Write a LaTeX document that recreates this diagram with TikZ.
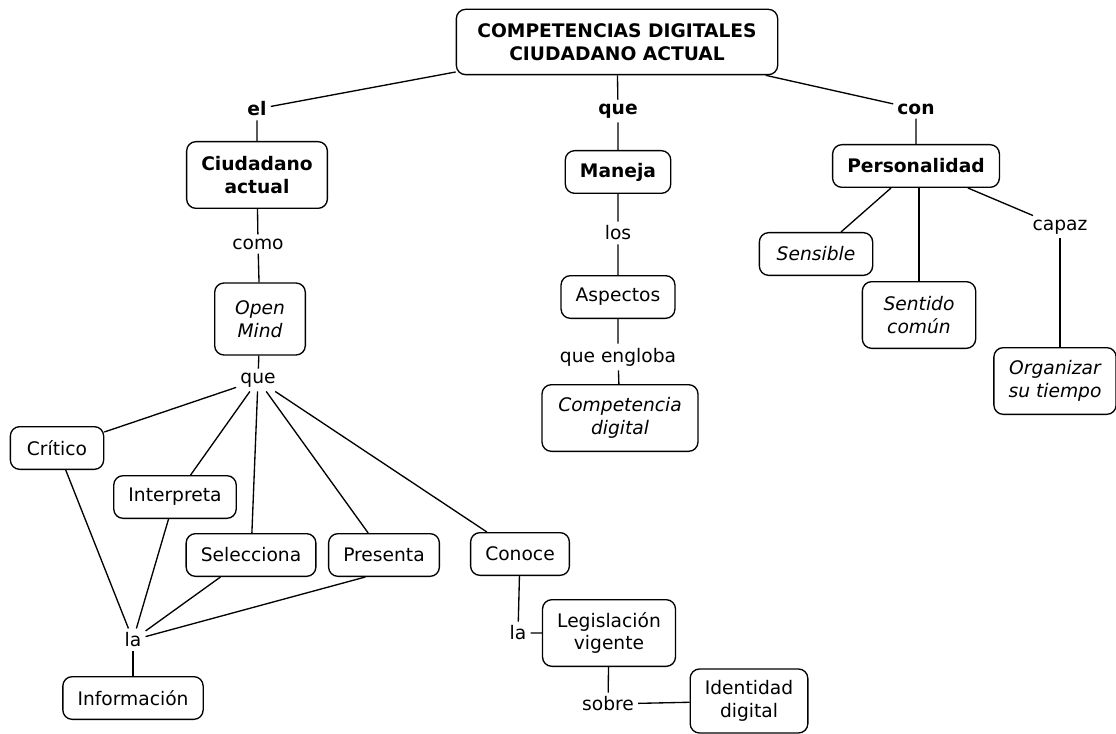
\documentclass[tikz,border=0pt]{standalone}
\usepackage{fontspec}
\setmainfont{DejaVu Sans}
\begin{document}
\fontsize{14}{17}\selectfont
\begin{tikzpicture}[x=0.75pt,y=-0.75pt]
\tikzstyle{concept}=[draw,rounded corners=7pt,line width=1pt,align=center,inner xsep=11pt,minimum height=32pt];
\tikzstyle{concept2}=[concept,minimum height=50pt];
\tikzstyle{link}=[inner sep=3pt,align=center];
\tikzstyle{conn}=[line width=1pt];
\useasboundingbox (0,0) rectangle (1116,734);
\node [concept,font=\bfseries,minimum width=241pt,minimum height=49pt] (top) at (617,42) {COMPETENCIAS DIGITALES\\CIUDADANO ACTUAL};
\node [link,font=\bfseries] (el) at (257,109) {el};
\node [link,font=\bfseries] (que1) at (618,111) {que};
\node [link,font=\bfseries] (con) at (916,109) {con};

% left branch
\node [concept2,font=\bfseries,minimum width=105pt] (ciud) at (257,175) {Ciudadano\\actual};
\node [link] (como) at (258,244) {como};
\node [concept2,font=\itshape,minimum width=68pt,minimum height=54pt] (open) at (260,319) {Open\\Mind};
\node [link] (que2) at (258,380) {que};
\node [concept,minimum width=70pt] (crit) at (57,448) {Crítico};
\node [concept] (interp) at (175,497) {Interpreta};
\node [concept] (sel) at (251,555) {Selecciona};
\node [concept] (pres) at (384,555) {Presenta};
\node [concept] (cono) at (520,554) {Conoce};
\node [link] (la1) at (133,640) {la};
\node [concept] (info) at (133,698) {Información};
\node [link] (la2) at (518,633) {la};
\node [concept2] (legis) at (609,633) {Legislación\\vigente};
\node [link] (sobre) at (608,704) {sobre};
\node [concept2,minimum height=48pt] (ident) at (749,701) {Identidad\\digital};

% middle branch
\node [concept,font=\bfseries] (maneja) at (618,172) {Maneja};
\node [link] (los) at (618,233) {los};
\node [concept] (asp) at (618,297) {Aspectos};
\node [link] (engl) at (618,357) {que engloba};
\node [concept2,font=\itshape,minimum width=117pt] (compd) at (620,418) {Competencia\\digital};

% right branch
\node [concept,font=\bfseries] (pers) at (916,166) {Personalidad};
\node [concept,font=\itshape,minimum width=85pt] (sens) at (816,254) {Sensible};
\node [concept2,font=\itshape,minimum width=85pt] (sent) at (919,315) {Sentido\\común};
\node [link] (capaz) at (1060,227) {capaz};
\node [concept2,font=\itshape] (org) at (1055,381) {Organizar\\su tiempo};

\draw [conn] (top) -- (el) -- (ciud);
\draw [conn] (top) -- (que1) -- (maneja);
\draw [conn] (top) -- (con) -- (pers);
\draw [conn] (ciud) -- (como) -- (open) -- (que2);
\foreach \n in {crit,interp,sel,pres,cono}
  \draw [conn] (que2) -- (\n);
\draw [conn] (crit) -- (la1);
\draw [conn] (interp) -- (la1);
\draw [conn] (sel) -- (la1);
\draw [conn] ([xshift=-14pt]pres.south) -- (la1);
\draw [conn] (la1) -- (info);
\draw [conn] (cono) -- (la2) -- (legis);
\draw [conn] (legis) -- (sobre) -- (ident);
\draw [conn] (maneja) -- (los) -- (asp) -- (engl) -- (compd);
\draw [conn] (pers) -- (sens);
\draw [conn] (sent.north) -- (sent.north |- pers.south);
\draw [conn] (pers) -- (capaz);
\draw [conn] (capaz.south) -- (capaz.south |- org.north);
\end{tikzpicture}
\end{document}
